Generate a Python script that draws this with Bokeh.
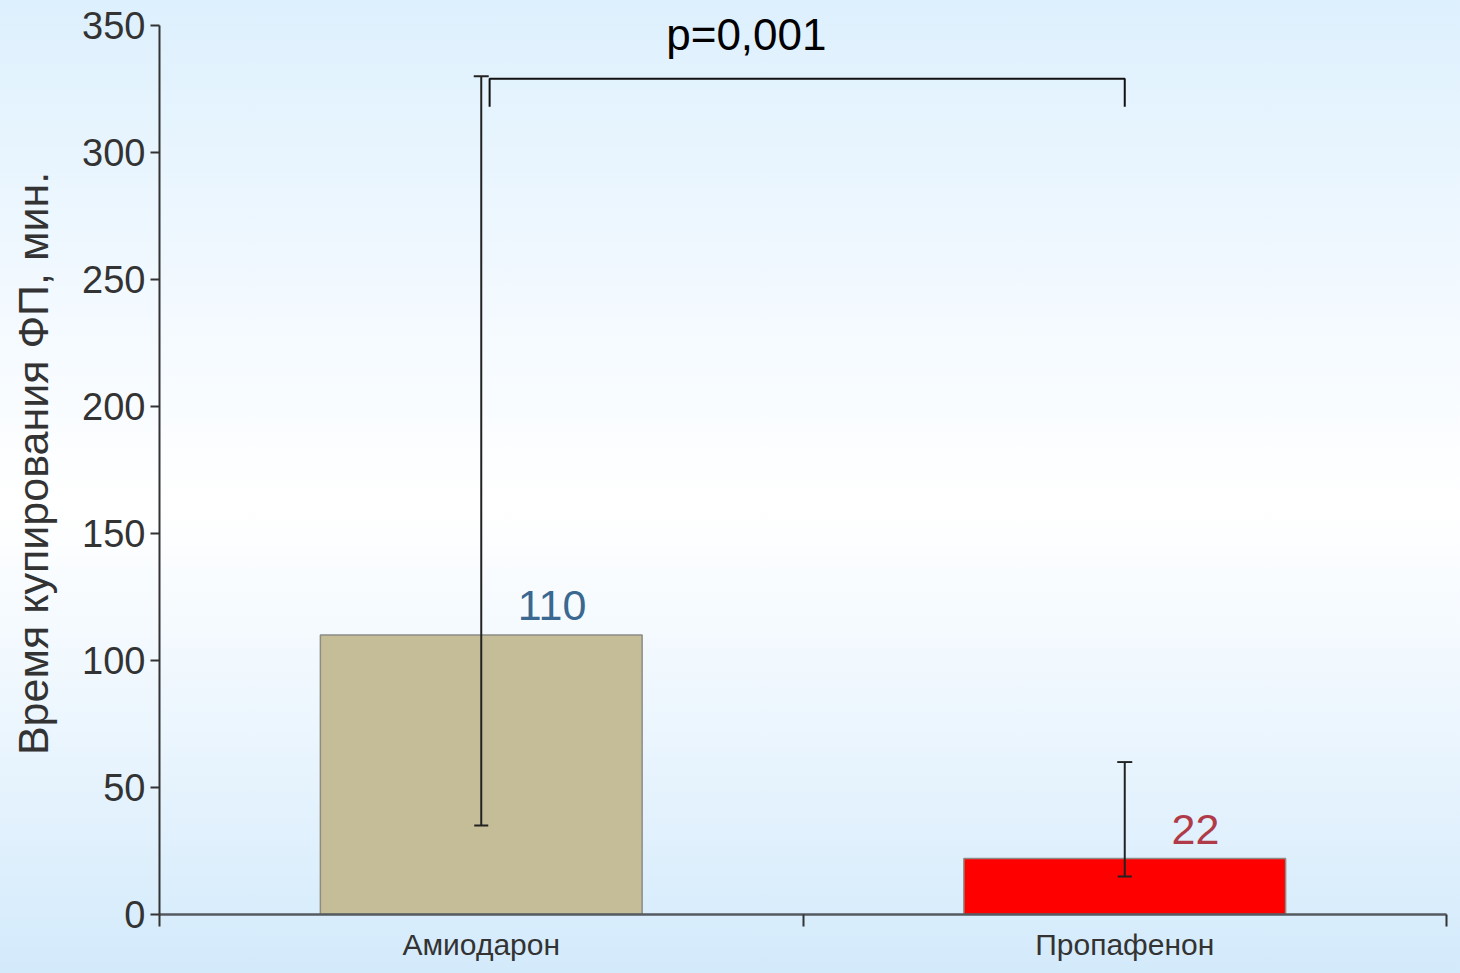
from bokeh.plotting import figure
from bokeh.models import (ColumnDataSource, FixedTicker, Range1d, Whisker, TeeHead,
                          Label, LabelSet)
from bokeh.core.properties import value
from bokeh.embed import file_html
from bokeh.resources import INLINE

# --- data -------------------------------------------------------------
drugs = ["Амиодарон", "Пропафенон"]
mean_minutes = [110, 22]
upper_minutes = [330, 60]
lower_minutes = [35, 15]
bar_colors = ["#c4bd97", "#ff0000"]
value_colors = ["#3a6891", "#b03a48"]
y_ticks = [0, 50, 100, 150, 200, 250, 300, 350]
y_title = "Время купирования  ФП, мин."
p_label = "p=0,001"

FONT = "Liberation Sans"
AXIS = "#333333"

# frame spans the full height above the axis; the axis itself stops at 350
FRAME_H = 914
AXIS_H = 889
Y_MAX = y_ticks[-1]
y_end = Y_MAX * FRAME_H / AXIS_H

centers = [i + 0.5 for i in range(len(drugs))]

src = ColumnDataSource(dict(
    x=centers,
    top=mean_minutes,
    upper=upper_minutes,
    lower=lower_minutes,
    color=bar_colors,
    tcolor=value_colors,
    label=[str(v) for v in mean_minutes],
    lx=[c + 0.11 for c in centers],
))

p = figure(
    frame_width=1287, frame_height=FRAME_H,
    min_border_left=159, min_border_right=14,
    min_border_top=0, min_border_bottom=59,
    x_range=Range1d(0, len(drugs)), y_range=Range1d(0, y_end),
    output_backend="svg", toolbar_location=None,
)
p.background_fill_alpha = 0
p.border_fill_alpha = 0
p.outline_line_color = None
p.styles = {
    "background-image": "linear-gradient(to bottom, #ddf0fd 0%, #f2f9ff 30%, #ffffff 52%, #eef7fe 72%, #d3eafb 100%)",
}
p.grid.visible = False

# bars
p.vbar(x="x", top="top", width=0.5, source=src, fill_color="color",
       line_color="#8c8c86", line_width=1.5)

# error bars, drawn over the bars
whisk = Whisker(
    source=src, base="x", upper="upper", lower="lower",
    line_color="#222222", line_width=2,
    upper_head=TeeHead(size=15, line_color="#222222", line_width=2),
    lower_head=TeeHead(size=14, line_color="#222222", line_width=2),
)
whisk.level = "overlay"
p.add_layout(whisk)

# value labels above the bars
p.add_layout(LabelSet(x="lx", y="top", text="label", source=src,
                      text_color="tcolor", text_font=value(FONT),
                      text_font_size="43px", text_align="center",
                      text_baseline="alphabetic", y_offset=15))

# significance bracket between the two groups
BRACKET_TOP = 329
BRACKET_FOOT = 318
p.line(x=[centers[0] + 0.013, centers[0] + 0.013, centers[1], centers[1]],
       y=[BRACKET_FOOT, BRACKET_TOP, BRACKET_TOP, BRACKET_FOOT],
       line_color="#111111", line_width=2)
p.add_layout(Label(x=0.912, y=346.5, text=p_label, text_font=FONT,
                   text_font_size="44px", text_color="#000000",
                   text_align="center", text_baseline="alphabetic"))

# y axis
ya = p.yaxis[0]
ya.ticker = FixedTicker(ticks=y_ticks, minor_ticks=[])
ya.bounds = (0, Y_MAX)
ya.axis_label = y_title
ya.axis_label_text_font = FONT
ya.axis_label_text_font_size = "43px"
ya.axis_label_text_font_style = "normal"
ya.axis_label_text_color = "#333333"
ya.axis_label_standoff = 22
ya.major_label_text_font = FONT
ya.major_label_text_font_size = "38px"
ya.major_label_text_color = "#333333"
ya.major_label_standoff = 5
ya.axis_line_color = AXIS
ya.axis_line_width = 2
ya.major_tick_line_color = AXIS
ya.major_tick_line_width = 2
ya.major_tick_out = 9
ya.major_tick_in = 0
ya.minor_tick_line_color = None

# x axis: labels at group centres, ticks on group boundaries
xa = p.xaxis[0]
xa.ticker = FixedTicker(ticks=centers, minor_ticks=list(range(len(drugs) + 1)))
xa.major_label_overrides = {c: d for c, d in zip(centers, drugs)}
xa.major_label_text_font = FONT
xa.major_label_text_font_size = "30px"
xa.major_label_text_color = "#333333"
xa.major_label_standoff = 1
xa.axis_line_color = "#555a60"
xa.axis_line_width = 2.5
xa.major_tick_line_color = None
xa.major_tick_out = 0
xa.major_tick_in = 0
xa.minor_tick_line_color = AXIS
xa.minor_tick_line_width = 2
xa.minor_tick_out = 12
xa.minor_tick_in = 0

open("out.html", "w").write(file_html(p, INLINE))
